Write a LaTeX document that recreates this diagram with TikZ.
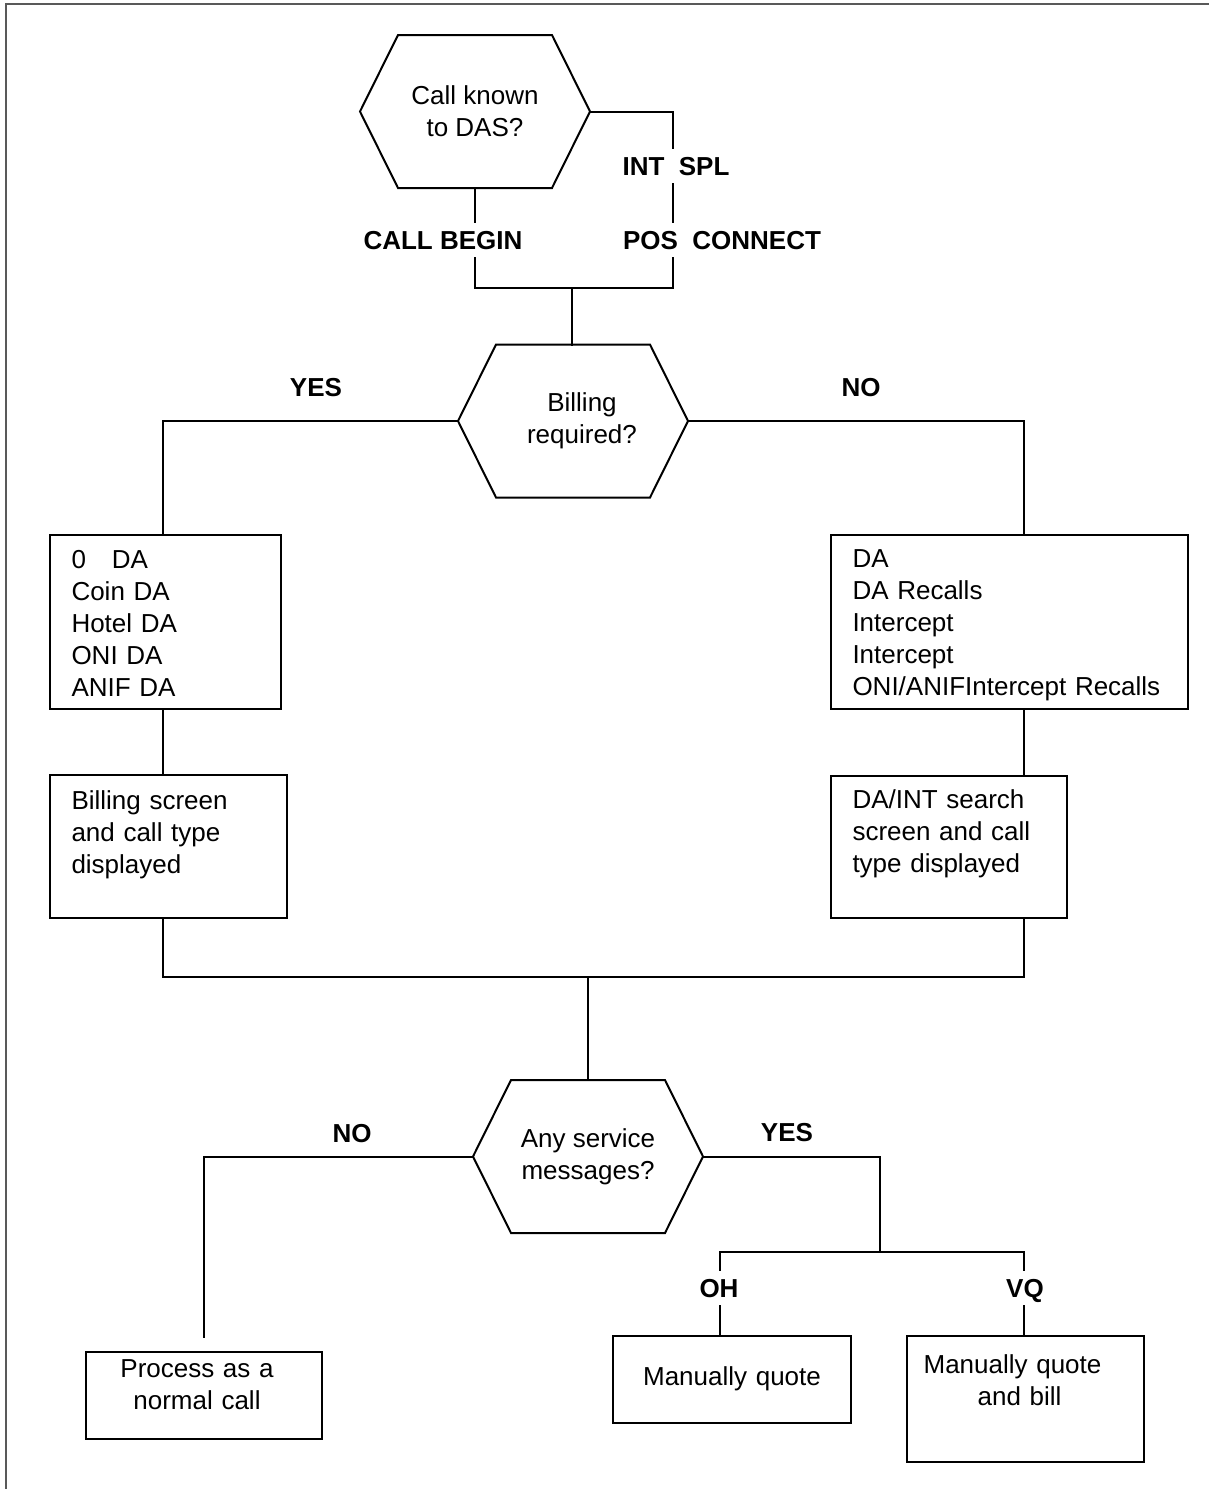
\documentclass[tikz,border=0pt]{standalone}
\usepackage{fontspec}
\setmainfont{Liberation Sans}
\usetikzlibrary{calc}
\begin{document}
\begin{tikzpicture}[x=1pt,y=-1pt,
  txt/.style={font=\fontsize{26}{32}\selectfont},
  lab/.style={font=\fontsize{26}{32}\selectfont\bfseries, inner xsep=3pt, inner ysep=8pt, text height=19pt, text depth=0pt},
  hexnode/.style={txt, inner sep=0pt, outer sep=0pt, minimum width=230pt, minimum height=153pt, align=center},
  box/.style={txt, draw, line width=2pt, inner ysep=0pt, inner xsep=21.5pt, outer sep=0pt, anchor=north west},
  cbox/.style={box, align=center, inner xsep=3.5pt},
  lbox/.style={box, align=left},
  conn/.style={line width=2pt, line cap=rect},
  hexline/.style={line width=2pt, line join=miter},
  frameline/.style={line width=1.5pt, black!65}]
\useasboundingbox (0,0) rectangle (1209,1489);
\draw[frameline] (6,1489) -- (6,4) -- (1209,4);

% decision nodes
\node[hexnode] (h1) at (475,111.5) {Call known\\to DAS?};
\node[hexnode] (h2) at (573,421) {\rule{18pt}{0pt}Billing\\\rule{18pt}{0pt}required?};
\node[hexnode] (h3) at (588,1156.5) {Any service\\messages?};
\foreach \h in {h1,h2,h3}
  \draw[hexline] (\h.west) -- ([xshift=38pt]\h.north west) -- ([xshift=-38pt]\h.north east)
     -- (\h.east) -- ([xshift=-38pt]\h.south east) -- ([xshift=38pt]\h.south west) -- cycle;

% boxes
\node[lbox, text width=188pt, text height=33pt, text depth=141pt] (b1) at (50,535)
  {0\ \ \ DA\\Coin DA\\Hotel DA\\ONI DA\\ANIF DA};
\node[lbox, text width=194pt, text height=34pt, text depth=109pt] (b2) at (50,775)
  {Billing screen\\and call type\\displayed};
\node[lbox, text width=314pt, text height=32pt, text depth=142pt] (r1) at (831,535)
  {DA\\DA Recalls\\Intercept\\Intercept\\ONI/ANIFIntercept Recalls};
\node[lbox, text width=193pt, text height=32pt, text depth=110pt] (r2) at (831,776)
  {DA/INT search\\screen and call\\type displayed};
\node[cbox, text width=229pt, text height=25pt, text depth=62pt] (p1) at (86,1352)
  {Process as a\rule{14pt}{0pt}\\normal call\rule{14pt}{0pt}};
\node[cbox, text width=231pt, text height=49pt, text depth=38pt] (q1) at (613,1336)
  {Manually quote};
\node[cbox, text width=230pt, text height=37pt, text depth=89pt] (q2) at (907,1336)
  {Manually quote\rule{26pt}{0pt}\\and bill\rule{12pt}{0pt}};

% labels
\node[lab] (is) at (676,166) {INT\ \ SPL};
\node[lab] (cb) at (443,240) {CALL BEGIN};
\node[lab] (pc) at (722,240) {POS\ \ CONNECT};
\node[lab] (yes1) at (316,387) {YES};
\node[lab] (no1) at (861,387) {NO};
\node[lab] (no2) at (352,1133) {NO};
\node[lab] (yes2) at (787,1132) {YES};
\node[lab] (oh) at (719,1288) {OH};
\node[lab] (vq) at (1025,1288) {VQ};

% helper coordinates
\coordinate (xc1) at (673,0);
\coordinate (j1) at (572,288);
\coordinate (xl) at (163,0);
\coordinate (xr) at (1024,0);
\coordinate (j2) at (588,977);
\coordinate (e1) at (204,1337);
\coordinate (jy) at (880,1252);
\coordinate (jo) at (720,1252);
\coordinate (jv) at (1024,1252);

% connectors top
\draw[conn] (h1.east) -- (h1.east -| xc1) -- (xc1 |- is.north);
\draw[conn] (xc1 |- is.south) -- (xc1 |- pc.north);
\draw[conn] (xc1 |- pc.south) -- (xc1 |- j1) -- (h1.south |- j1) -- (h1.south |- cb.south);
\draw[conn] (h1.south) -- (h1.south |- cb.north);
\draw[conn] (j1) -- (j1 |- h2.north);

% middle
\draw[conn] (h2.west) -- (h2.west -| xl) -- (xl |- b1.north);
\draw[conn] (xl |- b1.south) -- (xl |- b2.north);
\draw[conn] (h2.east) -- (h2.east -| xr) -- (xr |- r1.north);
\draw[conn] (xr |- r1.south) -- (xr |- r2.north);
\draw[conn] (xl |- b2.south) -- (xl |- j2) -- (xr |- j2) -- (xr |- r2.south);
\draw[conn] (j2) -- (j2 |- h3.north);

% bottom
\draw[conn] (h3.west) -- (h3.west -| e1) -- (e1);
\draw[conn] (h3.east) -- (h3.east -| jy) -- (jy);
\draw[conn] (jo) -- (jv);
\draw[conn] (jo) -- (jo |- oh.north);
\draw[conn] (jo |- oh.south) -- (jo |- q1.north);
\draw[conn] (jv) -- (jv |- vq.north);
\draw[conn] (jv |- vq.south) -- (jv |- q2.north);
\end{tikzpicture}
\end{document}
